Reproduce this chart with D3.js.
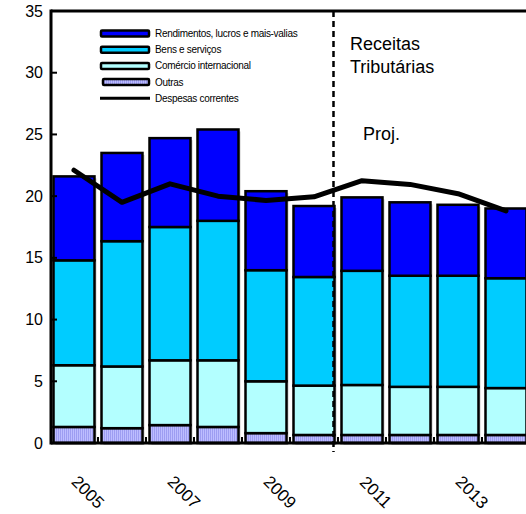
<!DOCTYPE html>
<html>
<head>
<meta charset="utf-8">
<script src="https://cdn.jsdelivr.net/npm/d3@7/dist/d3.min.js"></script>
<style>
  body { margin: 0; background: #fff; }
  svg { font-family: "Liberation Sans", Arial, sans-serif; }
</style>
</head>
<body>
<div id="chart"></div>
<script>
// Dados (% do PIB)
const anos = ['2005', '2006', '2007', '2008', '2009', '2010', '2011', '2012', '2013', '2014'];
const outras = [1.3, 1.2, 1.45, 1.3, 0.8, 0.65, 0.65, 0.65, 0.65, 0.65];
const comercio = [5.0, 5.0, 5.25, 5.4, 4.2, 4.0, 4.05, 3.9, 3.9, 3.8];
const bens = [8.5, 10.15, 10.8, 11.3, 9.0, 8.8, 9.25, 9.0, 9.0, 8.9];
const rendimentos = [6.8, 7.15, 7.2, 7.4, 6.4, 5.75, 5.95, 5.95, 5.75, 5.65];
const despesas = [22.1, 19.5, 21.0, 20.0, 19.65, 19.95, 21.25, 20.95, 20.2, 18.8];
const yTicks = [0, 5, 10, 15, 20, 25, 30, 35];
const xLabels = ['2005', '2007', '2009', '2011', '2013'];

const series = [
    { key: 'outras', nome: 'Outras', valores: outras, cor: 'url(#hatch)' },
    { key: 'comercio', nome: 'Comércio internacional', valores: comercio, cor: '#b3ffff' },
    { key: 'bens', nome: 'Bens e serviços', valores: bens, cor: '#00ccff' },
    { key: 'rend', nome: 'Rendimentos, lucros e mais-valias', valores: rendimentos, cor: '#0000ff' }
];

const width = 526, height = 514;
const svg = d3.select('#chart').append('svg')
    .attr('width', width)
    .attr('height', height);

// Padrão das "Outras"
const defs = svg.append('defs');
const pat = defs.append('pattern')
    .attr('id', 'hatch')
    .attr('patternUnits', 'userSpaceOnUse')
    .attr('width', 2).attr('height', 2);
pat.append('rect').attr('width', 2).attr('height', 2).attr('fill', '#bdbdff');
pat.append('rect').attr('width', 1).attr('height', 2).attr('fill', '#9d9df2');

const x = d3.scaleBand()
    .domain(anos)
    .range([50, 530])
    .paddingInner(0.146)
    .paddingOuter(0.073);

const y = d3.scaleLinear().domain([0, 35]).range([443, 11]);

// Empilhamento
const tabela = anos.map((a, i) => {
    const row = { ano: a };
    series.forEach(s => row[s.key] = s.valores[i]);
    return row;
});
const stack = d3.stack().keys(series.map(s => s.key));
const camadas = stack(tabela);
const total = d => series.reduce((t, s) => t + d[s.key], 0);

// Sombra das barras
svg.append('g')
    .selectAll('rect')
    .data(tabela)
    .join('rect')
    .attr('x', d => x(d.ano) + 2)
    .attr('y', d => y(total(d)) + 2)
    .attr('width', x.bandwidth())
    .attr('height', d => y(0) - y(total(d)))
    .attr('fill', '#c8c8c8');

// Barras
const gBars = svg.append('g');
camadas.forEach((camada, k) => {
    gBars.append('g')
        .selectAll('rect')
        .data(camada)
        .join('rect')
        .attr('x', d => x(d.data.ano))
        .attr('y', d => y(d[1]))
        .attr('width', x.bandwidth())
        .attr('height', d => y(d[0]) - y(d[1]))
        .attr('fill', series[k].cor)
        .attr('stroke', '#000')
        .attr('stroke-width', 2.5);
});

// Linha de despesas
const line = d3.line()
    .x((d, i) => x(anos[i]) + x.bandwidth() / 2)
    .y(d => y(d));

svg.append('path')
    .datum(despesas)
    .attr('d', line)
    .attr('fill', 'none')
    .attr('stroke', '#000')
    .attr('stroke-width', 5)
    .attr('stroke-linejoin', 'round')
    .attr('stroke-linecap', 'round');

// Linha vertical de projeção
const xProj = x('2010') + x.bandwidth() - 1;
svg.append('line')
    .attr('x1', xProj).attr('x2', xProj)
    .attr('y1', y(35)).attr('y2', y(0) + 9)
    .attr('stroke', '#000')
    .attr('stroke-width', 2.5)
    .attr('stroke-dasharray', '6,4');

// Eixos e moldura
svg.append('line')
    .attr('x1', 51).attr('x2', width)
    .attr('y1', y(35)).attr('y2', y(35))
    .attr('stroke', '#000').attr('stroke-width', 3);
svg.append('line')
    .attr('x1', 51).attr('x2', 51)
    .attr('y1', y(35) - 1.5).attr('y2', y(0) + 1.5)
    .attr('stroke', '#000').attr('stroke-width', 3);
svg.append('line')
    .attr('x1', 51).attr('x2', width)
    .attr('y1', y(0)).attr('y2', y(0))
    .attr('stroke', '#000').attr('stroke-width', 3);

// Ticks Y
svg.append('g')
    .selectAll('line')
    .data(yTicks)
    .join('line')
    .attr('x1', 51).attr('x2', 57)
    .attr('y1', d => y(d)).attr('y2', d => y(d))
    .attr('stroke', '#000').attr('stroke-width', 2);

svg.append('g')
    .selectAll('text')
    .data(yTicks)
    .join('text')
    .attr('x', 43)
    .attr('y', d => y(d))
    .attr('dy', '0.35em')
    .attr('text-anchor', 'end')
    .attr('font-size', 16)
    .text(d => d);

// Ticks X entre categorias
svg.append('g')
    .selectAll('line')
    .data(anos.slice(1))
    .join('line')
    .attr('x1', d => x(d) - x.step() * x.paddingInner() / 2)
    .attr('x2', d => x(d) - x.step() * x.paddingInner() / 2)
    .attr('y1', y(0)).attr('y2', y(0) - 6)
    .attr('stroke', '#000').attr('stroke-width', 2);

// Rótulos X
svg.append('g')
    .selectAll('text')
    .data(xLabels)
    .join('text')
    .attr('transform', d => `translate(${x(d) + x.bandwidth() / 2 + 14},492) rotate(45)`)
    .attr('text-anchor', 'middle')
    .attr('dy', '0.35em')
    .attr('font-size', 17)
    .text(d => d);

// Textos
svg.append('text').attr('x', 350).attr('y', 50).attr('font-size', 18).text('Receitas');
svg.append('text').attr('x', 350).attr('y', 73).attr('font-size', 18).text('Tributárias');
svg.append('text').attr('x', 363).attr('y', 140).attr('font-size', 18).text('Proj.');

// Legenda
const legenda = [
    { nome: 'Rendimentos, lucros e mais-valias', cor: '#0000ff', tipo: 'rect' },
    { nome: 'Bens e serviços', cor: '#00ccff', tipo: 'rect' },
    { nome: 'Comércio internacional', cor: '#b3ffff', tipo: 'rect' },
    { nome: 'Outras', cor: 'url(#hatch)', tipo: 'rect' },
    { nome: 'Despesas correntes', cor: '#000', tipo: 'line' }
];
const gLeg = svg.append('g');
legenda.forEach((l, i) => {
    const ly = 33.5 + i * 16.2;
    if (l.tipo === 'rect') {
        gLeg.append('rect')
            .attr('x', l.nome === 'Outras' ? 103 : 101)
            .attr('y', ly - 3)
            .attr('width', l.nome === 'Outras' ? 46 : 48)
            .attr('height', 6)
            .attr('rx', 1)
            .attr('fill', l.cor)
            .attr('stroke', '#000')
            .attr('stroke-width', 2.5);
    } else {
        gLeg.append('line')
            .attr('x1', 100).attr('x2', 150)
            .attr('y1', ly).attr('y2', ly)
            .attr('stroke', '#000').attr('stroke-width', 3);
    }
    gLeg.append('text')
        .attr('x', 155)
        .attr('y', ly)
        .attr('dy', '0.35em')
        .attr('font-size', 10)
        .attr('letter-spacing', -0.3)
        .text(l.nome);
});
</script>
</body>
</html>
